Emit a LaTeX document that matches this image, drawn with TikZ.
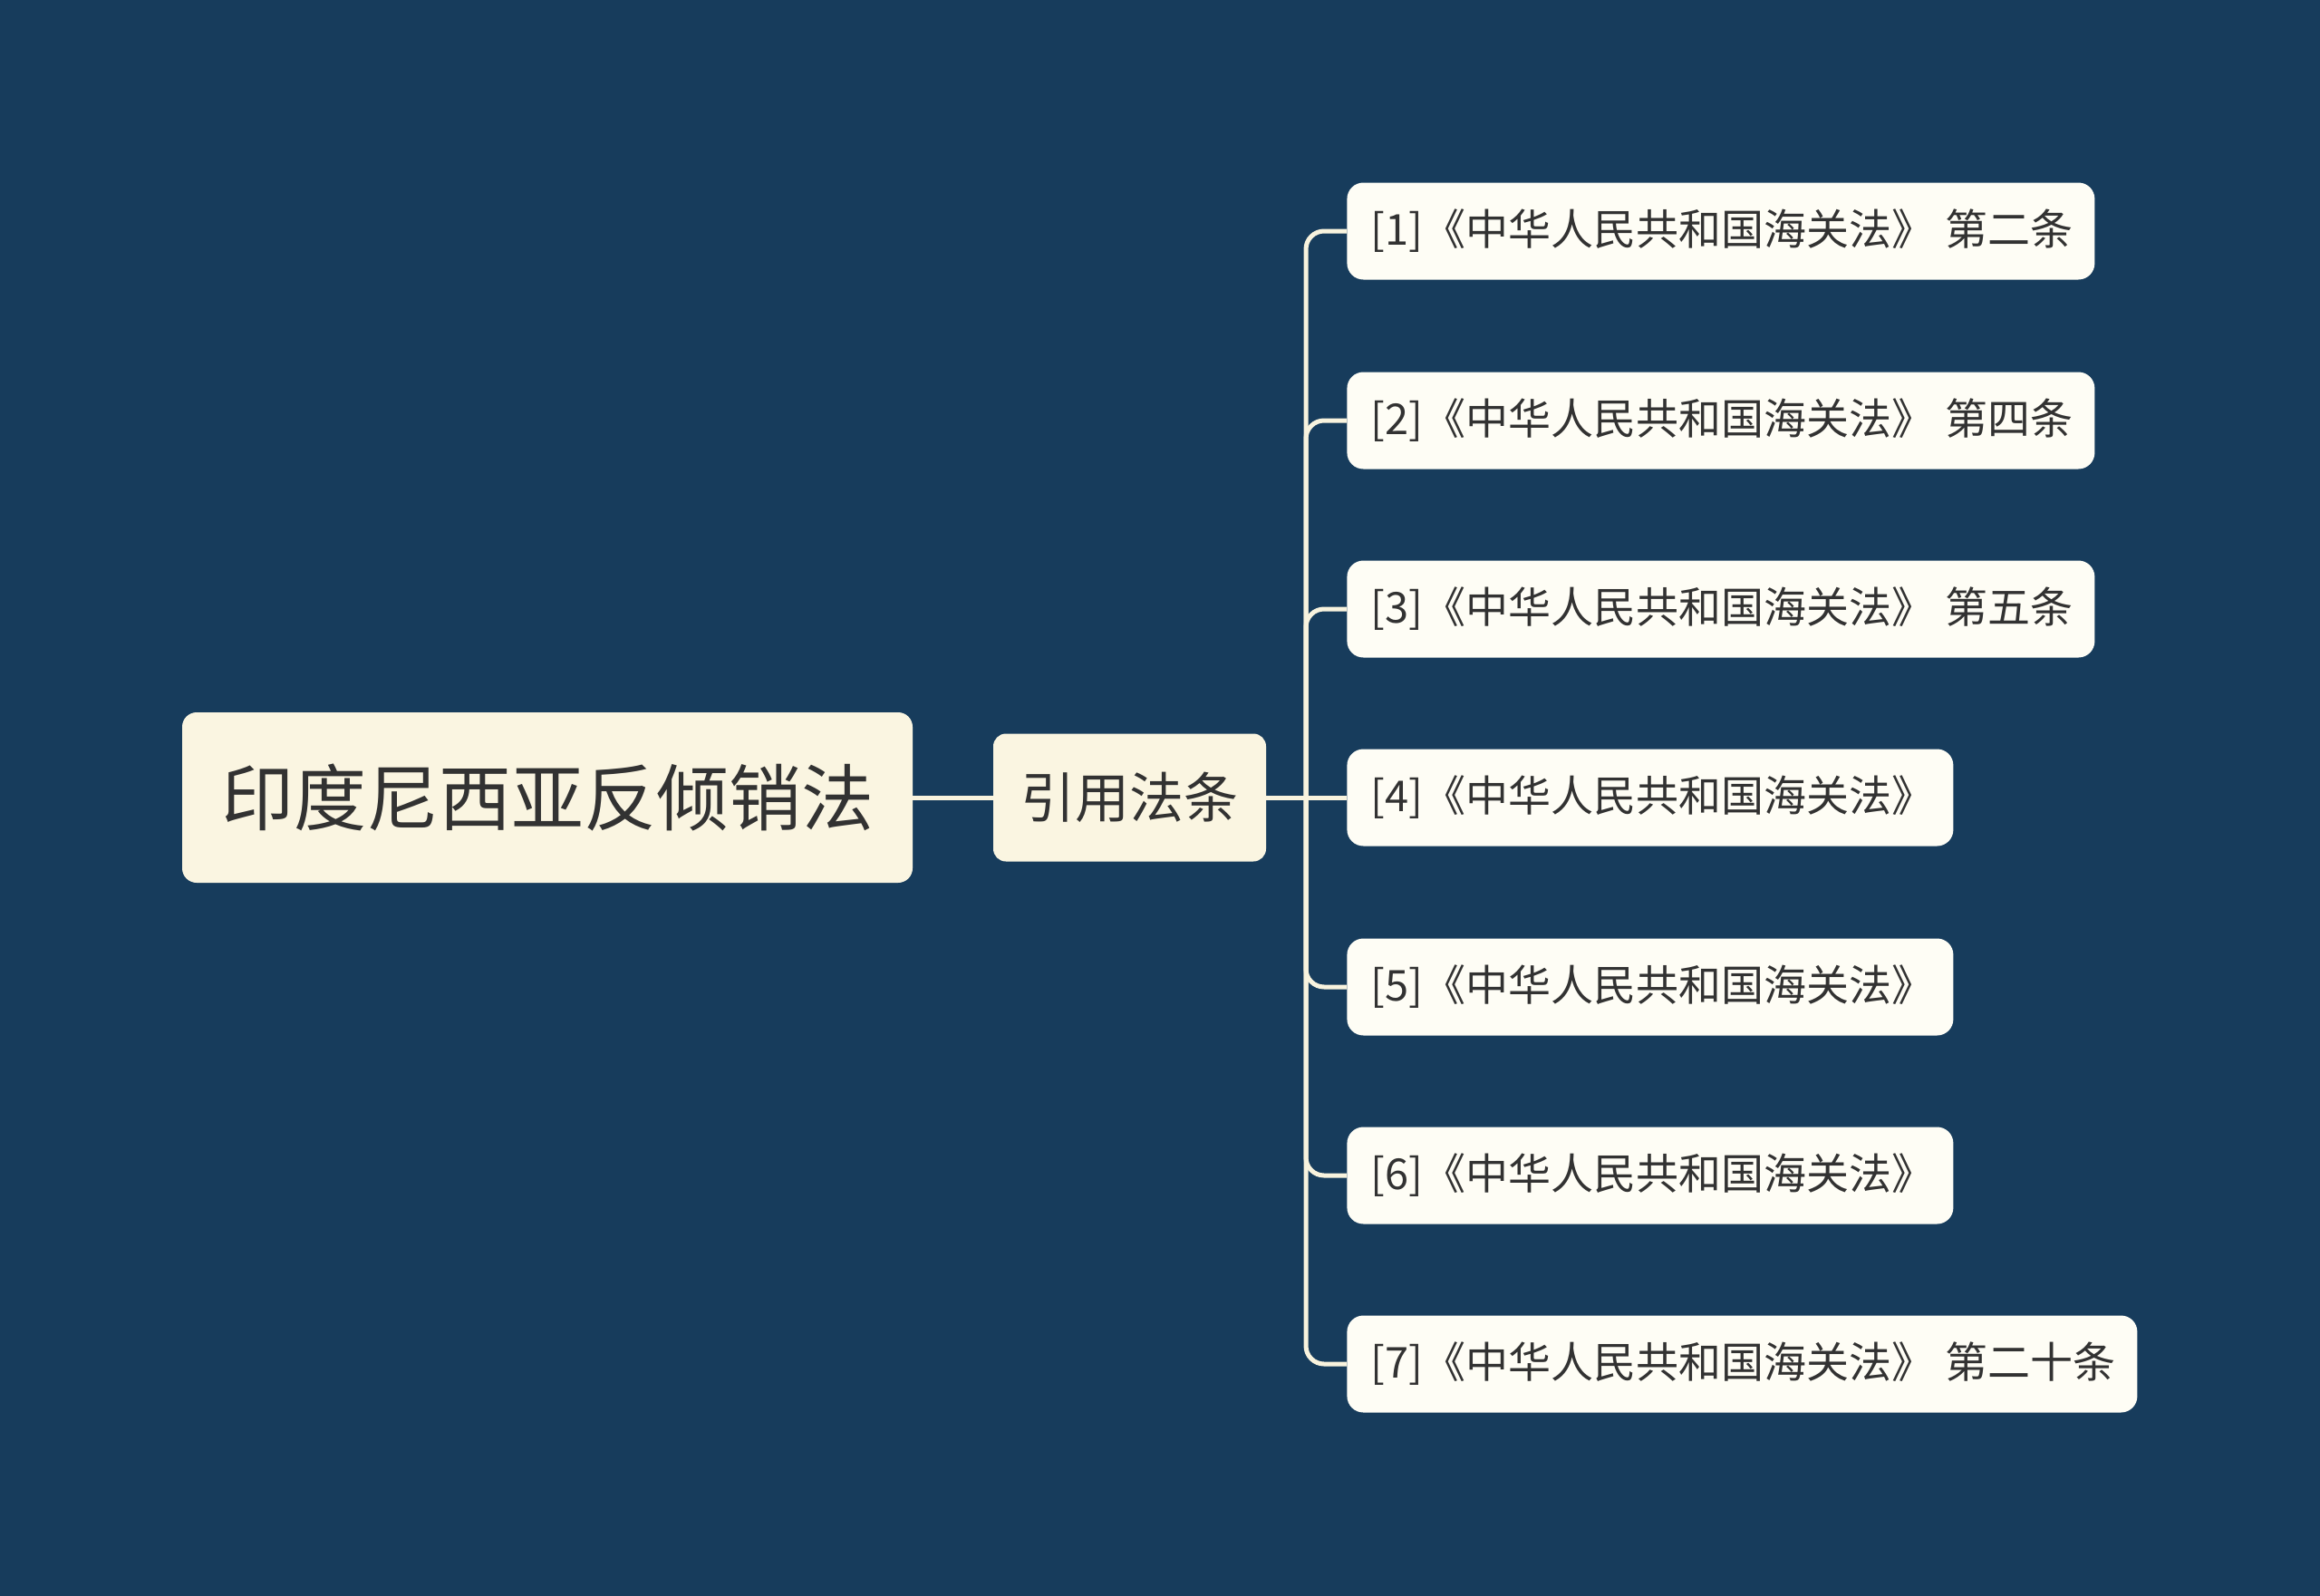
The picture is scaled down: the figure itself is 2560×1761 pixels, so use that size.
\documentclass[tikz,border=0pt]{standalone}
\usepackage{fontspec}
\newfontfamily\cjk{Noto Sans CJK SC}
\definecolor{bg}{RGB}{23,60,92}
\definecolor{cream}{RGB}{250,245,225}
\definecolor{leaffill}{RGB}{254,253,245}
\definecolor{linec}{RGB}{248,243,222}
\definecolor{txt}{RGB}{50,50,50}
\tikzset{
  rootbox/.style={fill=cream, rounded corners=8pt, inner sep=0pt, minimum width=403pt, minimum height=94pt, text=txt, font=\cjk\fontsize{40pt}{48pt}\selectfont},
  subbox/.style={fill=cream, rounded corners=7pt, inner sep=0pt, minimum width=150.5pt, minimum height=70.5pt, text=txt, font=\cjk\fontsize{30pt}{36pt}\selectfont},
  leafbox/.style={fill=leaffill, rounded corners=9pt, inner ysep=0pt, inner xsep=13pt, minimum height=53.5pt, anchor=west, align=left, text=txt, font=\cjk\fontsize{23.5pt}{28pt}\selectfont},
  conn/.style={draw=linec, line width=2.5pt},
  branch/.style={conn, rounded corners=10pt}
}
\begin{document}
\begin{tikzpicture}[x=0.5pt,y=-0.5pt]
\fill[bg] (0,0) rectangle (2560,1761);
\useasboundingbox (0,0) rectangle (2560,1761);
\node[rootbox] (root) at (604,880) {印度尼西亚反倾销法};
\node[subbox] (sub) at (1246.5,880) {引用法条};
\node[leafbox, text width=386.5pt] (l1) at (1486,255) {\mbox{[1]《中华人民共和国海关法》\hspace{0.25em}第二条}};
\node[leafbox, text width=386.5pt] (l2) at (1486,464) {\mbox{[2]《中华人民共和国海关法》\hspace{0.25em}第四条}};
\node[leafbox, text width=386.5pt] (l3) at (1486,672) {\mbox{[3]《中华人民共和国海关法》\hspace{0.25em}第五条}};
\node[leafbox, text width=308.5pt] (l4) at (1486,880) {\mbox{[4]《中华人民共和国海关法》}};
\node[leafbox, text width=308.5pt] (l5) at (1486,1089) {\mbox{[5]《中华人民共和国海关法》}};
\node[leafbox, text width=308.5pt] (l6) at (1486,1297) {\mbox{[6]《中华人民共和国海关法》}};
\node[leafbox, text width=410pt] (l7) at (1486,1505) {\mbox{[7]《中华人民共和国海关法》\hspace{0.25em}第二十条}};
\coordinate (j) at (1441,880);
\draw[conn] (root.east) -- (sub.west);
\draw[conn] (sub.east) -- (l4.west);
\foreach \n in {l1,l2,l3,l5,l6,l7}{
  \draw[branch] (j) |- (\n.west);
}
\end{tikzpicture}
\end{document}
